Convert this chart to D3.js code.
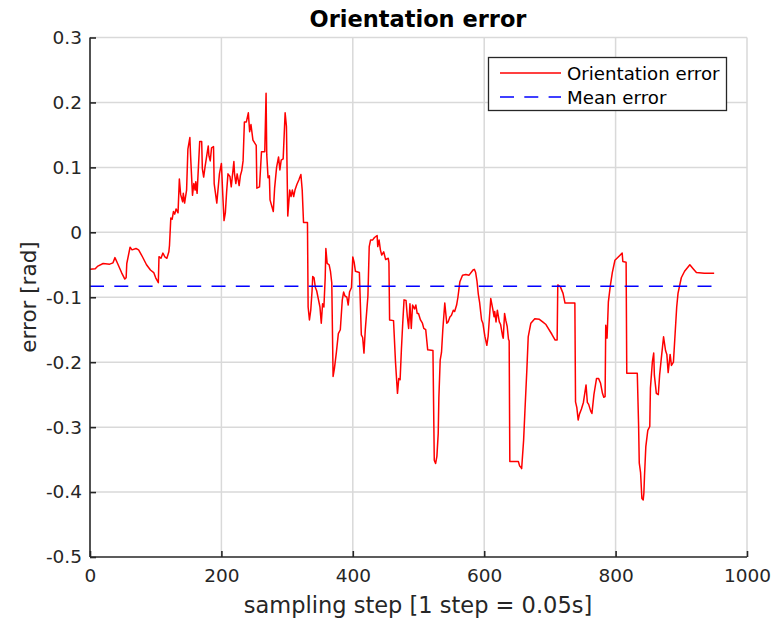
<!DOCTYPE html>
<html><head><meta charset="utf-8">
<script src="https://cdn.jsdelivr.net/npm/d3@7"></script>
<style>
body{margin:0;background:#fff;}
text{font-family:"DejaVu Sans",sans-serif;}
</style></head>
<body><svg id="c" width="774" height="624"></svg>
<script>
const steps = [0,8,12,20,30,35,38,42,48,53,55,56,61,64,70,74,80,86,92,97,100,104,105,108,111,114,117,120,121,123,125,127,129,131,134,136,138,141,142,144,147,149,152,153,156,158,160,161,163,167,170,171,173,175,180,181,183,185,188,189,193,197,200,202,204,206,208,210,213,215,219,220,222,224,227,229,231,233,235,238,241,243,245,248,253,254,258,261,266,268,269,271,273,274,279,281,284,287,289,291,294,297,299,301,304,306,308,310,312,315,318,321,323,325,331,332,334,336,338,339,341,343,345,347,350,352,354,356,358,359,361,364,366,368,370,372,375,378,381,384,386,388,391,393,395,398,400,402,404,410,413,415,417,419,421,423,425,427,430,433,437,438,440,442,444,447,450,454,455,456,462,465,468,470,472,474,476,478,481,483,485,487,489,491,494,496,498,500,503,506,508,511,514,522,524,526,528,530,531,533,535,537,540,543,545,548,550,553,555,558,560,563,567,572,577,583,585,587,589,591,593,596,598,601,604,606,610,613,615,616,618,620,623,625,628,629,631,633,635,637,638,639,652,654,656,657,660,662,665,667,671,677,684,689,694,703,708,711,712,716,720,723,738,739,741,743,745,748,751,755,757,759,762,764,767,771,774,777,780,782,784,785,787,789,792,795,799,806,810,811,816,817,833,835,836,838,840,842,843,844,846,849,852,853,856,858,859,862,865,867,870,873,876,878,880,883,885,888,890,893,895,900,905,913,918,923,935,950];
const errors = [-0.057,-0.056,-0.052,-0.048,-0.049,-0.047,-0.039,-0.048,-0.062,-0.072,-0.07,-0.048,-0.023,-0.027,-0.025,-0.027,-0.038,-0.05,-0.058,-0.062,-0.07,-0.0775,-0.0375,-0.04,-0.032,-0.038,-0.04,-0.03,-0.02,0.022,0.02,0.032,0.028,0.036,0.03,0.082,0.058,0.047,0.06,0.045,0.065,0.128,0.146,0.12,0.057,0.075,0.065,0.078,0.06,0.14,0.14,0.098,0.085,0.1,0.133,0.118,0.11,0.13,0.132,0.075,0.045,0.09,0.106,0.06,0.018,0.03,0.063,0.09,0.086,0.07,0.109,0.09,0.075,0.09,0.072,0.088,0.095,0.11,0.17,0.17,0.184,0.155,0.166,0.142,0.134,0.068,0.07,0.124,0.124,0.214,0.12,0.084,0.087,0.05,0.032,0.068,0.1,0.116,0.096,0.111,0.113,0.184,0.163,0.025,0.065,0.055,0.065,0.055,0.065,0.074,0.081,0.089,0.065,0.015,0.015,-0.115,-0.135,-0.12,-0.09,-0.068,-0.07,-0.085,-0.09,-0.1,-0.115,-0.14,-0.11,-0.115,-0.07,-0.025,-0.048,-0.05,-0.06,-0.078,-0.222,-0.21,-0.185,-0.156,-0.15,-0.104,-0.092,-0.098,-0.1,-0.112,-0.092,-0.085,-0.038,-0.046,-0.06,-0.062,-0.158,-0.162,-0.186,-0.15,-0.124,-0.098,-0.022,-0.012,-0.012,-0.008,-0.005,-0.022,-0.012,-0.027,-0.035,-0.03,-0.042,-0.04,-0.047,-0.135,-0.136,-0.2,-0.248,-0.225,-0.227,-0.18,-0.14,-0.104,-0.105,-0.13,-0.148,-0.11,-0.148,-0.112,-0.118,-0.112,-0.125,-0.125,-0.135,-0.14,-0.148,-0.15,-0.181,-0.182,-0.351,-0.356,-0.345,-0.31,-0.255,-0.197,-0.185,-0.15,-0.109,-0.14,-0.138,-0.13,-0.128,-0.12,-0.122,-0.112,-0.1,-0.076,-0.066,-0.065,-0.066,-0.058,-0.057,-0.062,-0.075,-0.095,-0.108,-0.135,-0.14,-0.16,-0.174,-0.16,-0.102,-0.118,-0.13,-0.122,-0.138,-0.12,-0.138,-0.142,-0.16,-0.163,-0.125,-0.136,-0.145,-0.165,-0.167,-0.353,-0.353,-0.36,-0.362,-0.364,-0.32,-0.275,-0.21,-0.161,-0.14,-0.133,-0.134,-0.138,-0.142,-0.157,-0.166,-0.166,-0.081,-0.084,-0.094,-0.109,-0.109,-0.261,-0.27,-0.289,-0.28,-0.272,-0.262,-0.235,-0.262,-0.265,-0.275,-0.279,-0.25,-0.225,-0.225,-0.232,-0.248,-0.254,-0.253,-0.143,-0.163,-0.107,-0.082,-0.062,-0.043,-0.036,-0.032,-0.045,-0.046,-0.217,-0.217,-0.297,-0.355,-0.37,-0.41,-0.412,-0.402,-0.375,-0.33,-0.305,-0.299,-0.24,-0.199,-0.186,-0.22,-0.248,-0.25,-0.22,-0.19,-0.161,-0.182,-0.188,-0.216,-0.188,-0.205,-0.2,-0.166,-0.115,-0.094,-0.07,-0.06,-0.05,-0.056,-0.062,-0.063,-0.063];
const meanError = -0.083;
const meanRange = [0, 950];
const xTicks = [0,200,400,600,800,1000];
const yTicks = [-0.5,-0.4,-0.3,-0.2,-0.1,0,0.1,0.2,0.3];
const yTickLabels = ["-0.5","-0.4","-0.3","-0.2","-0.1","0","0.1","0.2","0.3"];
const legendLabels = ["Orientation error","Mean error"];

const L=90, R=747, T=37.5, B=557;
const svg = d3.select("#c");
const x = d3.scaleLinear().domain([0,1000]).range([L,R]);
const y = d3.scaleLinear().domain([-0.5,0.3]).range([B,T]);
const ink = "#262626";
const dash = "14,10.3";

// grid
const g = svg.append("g");
g.selectAll(".vg").data(xTicks.slice(1)).join("line")
 .attr("x1",d=>x(d)).attr("x2",d=>x(d)).attr("y1",T).attr("y2",B)
 .attr("stroke","#d9d9d9").attr("stroke-width",1.5);
g.selectAll(".hg").data(yTicks.slice(1)).join("line")
 .attr("x1",L).attr("x2",R).attr("y1",d=>y(d)).attr("y2",d=>y(d))
 .attr("stroke","#d9d9d9").attr("stroke-width",1.5);

// data line
const pts = steps.map((s,i)=>[s,errors[i]]);
svg.append("path").datum(pts)
 .attr("d", d3.line().x(d=>x(d[0])).y(d=>y(d[1])))
 .attr("fill","none").attr("stroke","#ff0000").attr("stroke-width",1.5).attr("stroke-linejoin","round");
svg.append("line")
 .attr("x1",x(meanRange[0])).attr("x2",x(meanRange[1]))
 .attr("y1",y(meanError)).attr("y2",y(meanError))
 .attr("stroke","#0000ff").attr("stroke-width",1.5).attr("stroke-dasharray",dash);

// axes
const xa = svg.append("g").attr("transform",`translate(0,${B})`)
 .call(d3.axisBottom(x).tickValues(xTicks).tickSize(-6).tickPadding(12).tickFormat(d3.format("d")));
const ya = svg.append("g").attr("transform",`translate(${L},0)`)
 .call(d3.axisLeft(y).tickValues(yTicks).tickSize(-6).tickPadding(8).tickFormat((d,i)=>yTickLabels[i]));
[xa,ya].forEach(a=>{
  a.select(".domain").attr("stroke",ink).attr("stroke-width",1.6);
  a.selectAll(".tick line").attr("stroke",ink).attr("stroke-width",1.6);
  a.selectAll(".tick text").attr("fill",ink).style("font-size","18.5px").style("font-family","DejaVu Sans");
});
xa.select(".domain").attr("d",`M${L},0H${R}`);
ya.select(".domain").attr("d",`M0,${T}V${B}`);

// title & labels
svg.append("text").attr("x",418).attr("y",27).attr("text-anchor","middle")
 .style("font-weight","bold").style("font-size","22.5px").attr("fill","#000").text("Orientation error");
svg.append("text").attr("x",418).attr("y",613).attr("text-anchor","middle")
 .style("font-size","22.5px").attr("fill",ink).text("sampling step [1 step = 0.05s]");
svg.append("text").attr("transform","translate(36,297) rotate(-90)").attr("text-anchor","middle")
 .style("font-size","21.5px").attr("fill",ink).text("error [rad]");

// legend
const lg = svg.append("g");
lg.append("rect").attr("x",488.5).attr("y",57.5).attr("width",238).attr("height",53)
 .attr("fill","#fff").attr("stroke",ink).attr("stroke-width",1.3);
const lstyles=[{c:"#ff0000",d:null},{c:"#0000ff",d:dash}];
legendLabels.forEach((t,i)=>{
  const yy = 73 + i*24;
  lg.append("line").attr("x1",500).attr("x2",561).attr("y1",yy).attr("y2",yy)
    .attr("stroke",lstyles[i].c).attr("stroke-width",1.5).attr("stroke-dasharray",lstyles[i].d);
  lg.append("text").attr("x",567).attr("y",yy+6.5).style("font-size","18.2px").attr("fill","#000").text(t);
});
</script></body></html>
